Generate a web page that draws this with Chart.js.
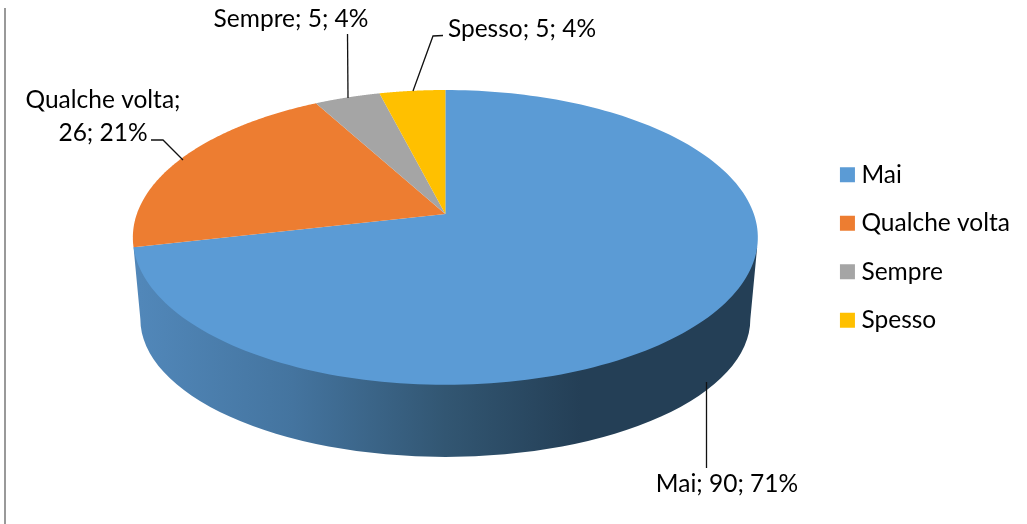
<!DOCTYPE html>
<html>
<head>
<meta charset="utf-8">
<style>body{margin:0;background:#fff}canvas{display:block}</style>
<script src="https://cdn.jsdelivr.net/npm/chart.js@4"></script>
</head>
<body>
<canvas id="pie" width="1027" height="524"></canvas>
<script>
var categories = ["Mai", "Qualche volta", "Sempre", "Spesso"];
var values = [90, 26, 5, 5];
var colors = ["#5b9bd5", "#ed7d31", "#a5a5a5", "#ffc000"];

var FONT = "Lato";
var FONT_SIZE = 24.5;

// label anchors and leader lines, one per category
var labelLines = [
  [{t: "{c}; {v}; {p}%", x: 727, y: 484}],
  [{t: "{c};", x: 103, y: 100}, {t: "{v}; {p}%", x: 103, y: 133}],
  [{t: "{c}; {v}; {p}%", x: 291, y: 19}],
  [{t: "{c}; {v}; {p}%", x: 522, y: 29}]
];
var leaders = [
  [[706.5, 382], [706.5, 468]],
  [[151, 140], [163, 140], [183, 160]],
  [[347.5, 34], [348, 98]],
  [[443, 35.5], [433, 36], [413, 91]]
];

// tilt of the disc, as ratios of the radius Chart.js gives the arcs
var tilt = {c: -0.159, sx: 1.2465, sy: 0.5806, apexDy: -33.5};
var wall = {dy: 71.5, rx: 1.2323, ry: 0.5576, cut: 0.225};

function project(el, a) {
  var R = el.outerRadius;
  var w = 1 + tilt.c * Math.sin(a);
  return {
    x: el.x + R * tilt.sx * Math.cos(a) / w,
    y: el.y + tilt.apexDy + R * tilt.sy * Math.sin(a) / w
  };
}

var pie3d = {
  id: "pie3d",
  beforeDatasetsDraw: function (chart) {
    var ctx = chart.ctx;
    var arcs = chart.getDatasetMeta(0).data;
    var el = arcs[0];
    var R = el.outerRadius;

    // side wall
    var grad = ctx.createLinearGradient(140, 0, 752, 0);
    grad.addColorStop(0, "#5187b9");
    grad.addColorStop(0.25, "#44749f");
    grad.addColorStop(0.5, "#325672");
    grad.addColorStop(0.72, "#243f56");
    grad.addColorStop(1, "#243f56");
    var left = project(el, Math.PI - wall.cut);
    var right = project(el, wall.cut);
    ctx.beginPath();
    ctx.moveTo(right.x, right.y);
    ctx.ellipse(el.x, el.y + wall.dy, R * wall.rx, R * wall.ry, 0, 0, Math.PI);
    ctx.lineTo(left.x, left.y);
    ctx.closePath();
    ctx.fillStyle = grad;
    ctx.fill();

    // top face, one path per slice
    arcs.forEach(function (arc, i) {
      var n = 180;
      ctx.beginPath();
      ctx.moveTo(arc.x, arc.y + tilt.apexDy);
      for (var k = 0; k <= n; k++) {
        var p = project(arc, arc.startAngle + (arc.endAngle - arc.startAngle) * k / n);
        ctx.lineTo(p.x, p.y);
      }
      ctx.closePath();
      ctx.fillStyle = colors[i];
      ctx.fill();
    });
    return false;
  },
  afterDraw: function (chart) {
    var ctx = chart.ctx;
    var total = values.reduce(function (s, v) { return s + v; }, 0);
    ctx.save();

    // frame line on the left
    ctx.strokeStyle = "#999";
    ctx.lineWidth = 2;
    ctx.beginPath();
    ctx.moveTo(5, 8);
    ctx.lineTo(5, 524);
    ctx.stroke();

    ctx.strokeStyle = "#111";
    ctx.lineWidth = 1.3;
    leaders.forEach(function (pts) {
      ctx.beginPath();
      pts.forEach(function (p, k) {
        if (k === 0) ctx.moveTo(p[0], p[1]); else ctx.lineTo(p[0], p[1]);
      });
      ctx.stroke();
    });

    ctx.fillStyle = "#000";
    ctx.font = FONT_SIZE + "px " + FONT;
    ctx.textAlign = "center";
    ctx.textBaseline = "middle";
    labelLines.forEach(function (lines, i) {
      lines.forEach(function (l) {
        var txt = l.t.replace("{c}", categories[i]).replace("{v}", values[i])
          .replace("{p}", Math.round(values[i] / total * 100));
        ctx.fillText(txt, l.x, l.y);
      });
    });
    ctx.restore();
  }
};

// legend swatch: small box plus thick stroke, so the text gap stays tight
var swatchLine = FONT_SIZE - 13;

new Chart(document.getElementById("pie"), {
  type: "pie",
  data: {
    labels: categories,
    datasets: [{data: values, backgroundColor: colors, borderWidth: 0}]
  },
  options: {
    responsive: false,
    animation: false,
    events: [],
    layout: {padding: {left: 69, right: 7, top: 0, bottom: 29}},
    plugins: {
      tooltip: {enabled: false},
      legend: {
        position: "right",
        labels: {
          color: "#000",
          font: {family: FONT, size: FONT_SIZE},
          boxWidth: 15 - swatchLine,
          boxHeight: 15 - swatchLine,
          padding: 24,
          generateLabels: function () {
            return categories.map(function (c, i) {
              return {text: c, fillStyle: colors[i], strokeStyle: colors[i], lineWidth: swatchLine, index: i};
            });
          }
        }
      }
    }
  },
  plugins: [pie3d]
});
</script>
</body>
</html>
